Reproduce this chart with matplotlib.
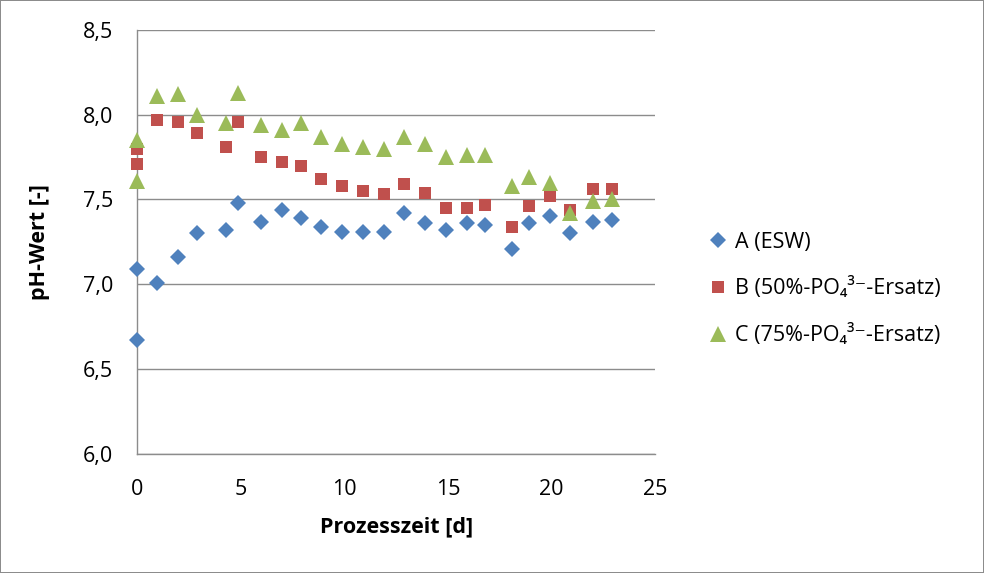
import matplotlib
matplotlib.use('Agg')
import matplotlib.pyplot as plt
from matplotlib.ticker import FuncFormatter

FONT = ['Open Sans', 'DejaVu Sans']

# sampling days per series
DAYS = [0, 0, 1, 2, 2.9, 4.3, 4.9, 6, 7, 7.9, 8.9, 9.9, 10.9, 11.9,
        12.9, 13.9, 14.9, 15.9, 16.8, 18.1, 18.9, 19.9, 20.9, 22, 22.9]

# pH values
PH_A = [6.67, 7.09, 7.01, 7.16, 7.30, 7.32, 7.48, 7.37, 7.44, 7.39, 7.34, 7.31, 7.31,
        7.31, 7.42, 7.36, 7.32, 7.36, 7.35, 7.21, 7.36, 7.40, 7.30, 7.37, 7.38]
PH_B = [7.80, 7.71, 7.97, 7.96, 7.89, 7.81, 7.96, 7.75, 7.72, 7.70, 7.62, 7.58, 7.55,
        7.53, 7.59, 7.54, 7.45, 7.45, 7.47, 7.34, 7.46, 7.52, 7.44, 7.56, 7.56]
PH_C = [7.85, 7.61, 8.11, 8.12, 8.00, 7.95, 8.13, 7.94, 7.91, 7.95, 7.87, 7.83, 7.81,
        7.80, 7.87, 7.83, 7.75, 7.76, 7.76, 7.58, 7.63, 7.60, 7.42, 7.49, 7.50]

LABELS = ['A (ESW)', 'B (50%-PO\u2084\u00b3\u207b-Ersatz)', 'C (75%-PO\u2084\u00b3\u207b-Ersatz)']
COLORS = ['#4F81BD', '#C0504D', '#9BBB59']
MARKERS = [('D', 8.0), ('s', 9.0), ('^', 11.0)]

plt.rcParams['font.family'] = FONT

fig = plt.figure(figsize=(9.84, 5.73), dpi=100)
fig.patch.set_edgecolor('#8c8c8c')
fig.patch.set_linewidth(1.2)
ax = fig.add_axes([136.7 / 984, 1 - 453.7 / 573, (655.3 - 136.7) / 984, (453.7 - 30) / 573])

for ys, label, color, (mk, ms) in zip([PH_A, PH_B, PH_C], LABELS, COLORS, MARKERS):
    ax.plot(DAYS, ys, linestyle='none', marker=mk, markersize=ms, color=color,
            markeredgewidth=0, label=label, clip_on=False, zorder=3)

ax.set_xlim(0, 25)
ax.set_ylim(6.0, 8.5)
ax.set_xticks(range(0, 26, 5))
ax.set_yticks([6.0, 6.5, 7.0, 7.5, 8.0, 8.5])
ax.yaxis.set_major_formatter(FuncFormatter(lambda v, p: f'{v:.1f}'.replace('.', ',')))
ax.grid(axis='y', color='#8c8c8c', linewidth=1.0)
ax.set_axisbelow(True)
for side in ['top', 'right']:
    ax.spines[side].set_visible(False)
for side in ['left', 'bottom']:
    ax.spines[side].set_color('#8c8c8c')
    ax.spines[side].set_linewidth(1.0)
ax.tick_params(length=0, labelsize=15.5, colors='black')
ax.tick_params(axis='x', pad=18)
ax.tick_params(axis='y', pad=17)

ax.set_xlabel('Prozesszeit [d]', fontsize=15.5, fontweight='bold', va='center')
ax.set_ylabel('pH-Wert [-]', fontsize=15.5, fontweight='bold', va='center')
ax.xaxis.set_label_coords(0.502, -0.173)
ax.yaxis.set_label_coords(-0.188, 0.5)

ax.legend(loc='center left', bbox_to_anchor=(1.085, 0.389), frameon=False, fontsize=15.5,
          handlelength=0.75, handletextpad=0.4, labelspacing=1.15, borderpad=0)

fig.savefig('out.png', dpi=100, facecolor='white', edgecolor=fig.patch.get_edgecolor())
